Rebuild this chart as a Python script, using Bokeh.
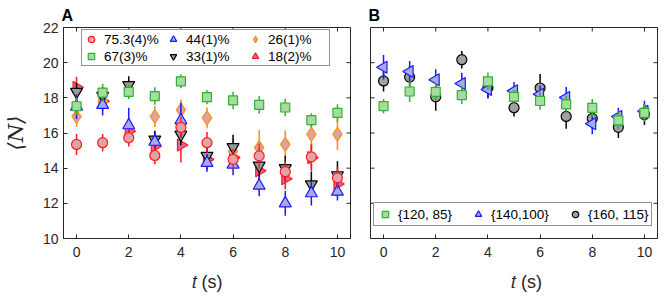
import math
from bokeh.plotting import figure
from bokeh.models import Range1d, FixedTicker, Legend, LegendItem
from bokeh.layouts import row
from bokeh.embed import file_html
from bokeh.resources import INLINE

# ---------------- data ----------------
t = [0, 1, 2, 3, 4, 5, 6, 7, 8, 9, 10]
x_ticks = [0, 2, 4, 6, 8, 10]
y_ticks = [10, 12, 14, 16, 18, 20, 22]
x_lim = (-0.5, 10.5)
y_lim = (10, 22)

# Panel A
a_labels = ["75.3(4)%", "67(3)%", "44(1)%", "33(1)%", "26(1)%", "18(2)%"]
a753 = [15.35, 15.45, 15.73, 14.72, 16.32, 15.45, 14.50, 14.70, 13.80, 14.64, 13.45]
e753 = [0.6, 0.5, 0.5, 0.5, 0.6, 0.6, 0.6, 0.7, 0.6, 0.7, 0.6]
a67 = [17.52, 18.30, 18.34, 18.10, 18.94, 18.04, 17.85, 17.60, 17.45, 16.73, 17.14]
e67 = [0.5, 0.5, 0.4, 0.5, 0.4, 0.4, 0.5, 0.5, 0.5, 0.4, 0.5]
a44 = [17.50, 17.60, 16.44, 15.50, 16.72, 14.30, 14.20, 13.00, 12.00, 12.57, 12.66]
e44 = [0.7, 0.6, 1.0, 0.5, 1.0, 0.5, 0.6, 0.6, 0.7, 0.7, 0.5]
a33 = [18.34, 18.12, 18.73, 15.63, 15.91, 14.70, 15.20, 14.15, 14.00, 13.08, 13.60]
e33 = [0.5, 0.5, 0.5, 0.5, 0.6, 0.5, 0.7, 0.6, 0.7, 0.7, 0.8]
a26 = [16.94, 17.80, 18.50, 16.94, 17.31, 16.86, 14.96, 15.17, 15.35, 15.93, 15.93]
e26 = [0.6, 0.5, 0.5, 0.6, 0.6, 0.6, 0.7, 1.0, 0.8, 0.9, 0.9]
a18 = [18.60, 17.80, 16.10, 15.25, 15.32, 14.50, 14.60, 13.85, 13.40, 14.60, 13.10]
e18 = [0.6, 0.5, 0.6, 0.8, 1.0, 0.6, 0.6, 0.6, 0.6, 0.8, 0.7]

# Panel B
b_labels = ["{120, 85}", "{140,100}", "{160, 115}"]
b120 = [17.53, 18.36, 18.34, 18.15, 18.94, 18.06, 17.82, 17.63, 17.43, 16.72, 17.14]
eb120 = [0.4, 0.6, 0.5, 0.5, 0.5, 0.4, 0.5, 0.5, 0.5, 0.5, 0.5]
b140 = [19.74, 19.50, 19.03, 18.82, 18.47, 18.40, 18.20, 18.02, 16.53, 16.94, 17.24]
eb140 = [0.7, 0.6, 0.6, 0.6, 0.5, 0.5, 0.5, 0.6, 0.6, 0.5, 0.6]
b160 = [18.96, 19.18, 18.06, 20.17, 18.58, 17.44, 18.56, 16.94, 16.83, 16.32, 17.05]
eb160 = [0.6, 0.6, 0.8, 0.5, 0.6, 0.5, 0.8, 0.7, 0.6, 0.6, 0.6]

AX = "#262626"
FONT = "Liberation Sans"
FRAME_H = 214
TOP = 24
H = 294
TICK = 4


def base_fig(width, left, right, show_yaxis, title, xlabel):
    p = figure(width=width, height=H, x_range=Range1d(*x_lim), y_range=Range1d(*y_lim),
               output_backend="svg", toolbar_location=None,
               min_border_left=left, min_border_right=right,
               min_border_top=TOP, min_border_bottom=H - TOP - FRAME_H)
    p.xgrid.visible = False
    p.ygrid.visible = False
    p.outline_line_color = AX
    p.outline_line_width = 1
    p.background_fill_color = "white"
    p.border_fill_color = "white"
    p.title.text = title
    p.title.text_font = FONT
    p.title.text_font_style = "bold"
    p.title.text_font_size = "16px"
    p.title.text_color = "black"
    p.title.align = "left"
    p.title.offset = -2
    p.title.standoff = 8
    for ax in (p.xaxis[0], p.yaxis[0]):
        ax.axis_line_color = AX
        ax.major_tick_line_color = AX
        ax.major_tick_in = TICK
        ax.major_tick_out = 0
        ax.minor_tick_line_color = None
        ax.major_label_text_color = AX
        ax.major_label_text_font = FONT
        ax.major_label_text_font_size = "14px"
    p.xaxis.ticker = FixedTicker(ticks=x_ticks)
    p.yaxis.ticker = FixedTicker(ticks=y_ticks)
    p.xaxis.major_label_standoff = 8
    p.yaxis.major_label_standoff = 5
    p.xaxis.axis_label = xlabel
    p.xaxis.axis_label_text_font = FONT
    p.xaxis.axis_label_text_font_style = "normal"
    p.xaxis.axis_label_text_font_size = "18px"
    p.xaxis.axis_label_text_color = AX
    p.xaxis.axis_label_standoff = 12
    # box ticks (top, right, and left when the y axis is hidden)
    p.ray(x=x_ticks, y=[y_lim[1]] * len(x_ticks), length=TICK, length_units="screen",
          angle=-math.pi / 2, line_color=AX, line_width=1)
    p.ray(x=[x_lim[1]] * len(y_ticks), y=y_ticks, length=TICK, length_units="screen",
          angle=math.pi, line_color=AX, line_width=1)
    if not show_yaxis:
        p.yaxis.visible = False
        p.ray(x=[x_lim[0]] * len(y_ticks), y=y_ticks, length=TICK, length_units="screen",
              angle=0.0, line_color=AX, line_width=1)
    return p


def series(p, y, e, marker, size, edge, fill, angle=0.0):
    p.segment(x0=t, y0=[v - d for v, d in zip(y, e)], x1=t, y1=[v + d for v, d in zip(y, e)],
              line_color=edge, line_width=1.5)
    return p.scatter(x=t, y=y, marker=marker, size=size, angle=angle,
                     line_color=edge, fill_color=fill, line_width=1.2)


XLABEL = "\U0001D461 (s)"

# ---------------- panel A ----------------
pA = base_fig(355, 63, 5, True, "A", XLABEL)
pA.yaxis[0].axis_label = "\u27e8N\u27e9"
pA.yaxis[0].axis_label_text_font = "DejaVu Serif"
pA.yaxis[0].axis_label_text_font_style = "italic"
pA.yaxis[0].axis_label_text_font_size = "21px"
pA.yaxis[0].axis_label_text_color = AX
pA.yaxis[0].axis_label_standoff = 12

r18 = series(pA, a18, e18, "triangle", 12, "#ff1a1a", "#f0608c", -math.pi / 2)
r26 = series(pA, a26, e26, "diamond", 14, "#ff8c1a", "#d9a5a3")
r33 = series(pA, a33, e33, "inverted_triangle", 12, "black", "#9a9a9a")
r44 = series(pA, a44, e44, "triangle", 12, "#1a1aff", "#a9a9e6")
r67 = series(pA, a67, e67, "square", 9, "#33b033", "#a6dca0")
r753 = series(pA, a753, e753, "circle", 10, "#ff1a1a", "#e0a4a8")

legA = Legend(items=[LegendItem(label=a_labels[0], renderers=[r753]),
                     LegendItem(label=a_labels[1], renderers=[r67]),
                     LegendItem(label=a_labels[2], renderers=[r44]),
                     LegendItem(label=a_labels[3], renderers=[r33]),
                     LegendItem(label=a_labels[4], renderers=[r26]),
                     LegendItem(label=a_labels[5], renderers=[r18])],
              location=(18, 172), orientation="vertical", ncols=3,
              glyph_width=16, glyph_height=16, label_height=16, label_width=60,
              label_standoff=5, spacing=1, padding=1, margin=0,
              label_text_font=FONT, label_text_font_size="13.5px", label_text_color="black",
              border_line_color=AX, border_line_width=1, background_fill_alpha=1)
pA.add_layout(legA, "center")

# ---------------- panel B ----------------
pB = base_fig(308, 15, 6, False, "B", "\u00a0" * 5 + XLABEL)
r160 = series(pB, b160, eb160, "circle", 10, "black", "#a0a0a0")
r140 = series(pB, b140, eb140, "triangle", 12, "#1a1aff", "#a9a9e6", math.pi / 2)
r120 = series(pB, b120, eb120, "square", 9, "#33b033", "#a6dca0")

legB = Legend(items=[LegendItem(label=b_labels[0], renderers=[r120]),
                     LegendItem(label=b_labels[1], renderers=[r140]),
                     LegendItem(label=b_labels[2], renderers=[r160])],
              location=(3, 12), orientation="horizontal",
              glyph_width=16, glyph_height=16, label_height=16, label_standoff=5,
              spacing=18, padding=3, margin=0,
              label_text_font=FONT, label_text_font_size="13.5px", label_text_color="black",
              border_line_color=AX, border_line_width=1, background_fill_alpha=1)
pB.add_layout(legB, "center")

layout = row(pA, pB)
open("out.html", "w").write(file_html(layout, INLINE))
